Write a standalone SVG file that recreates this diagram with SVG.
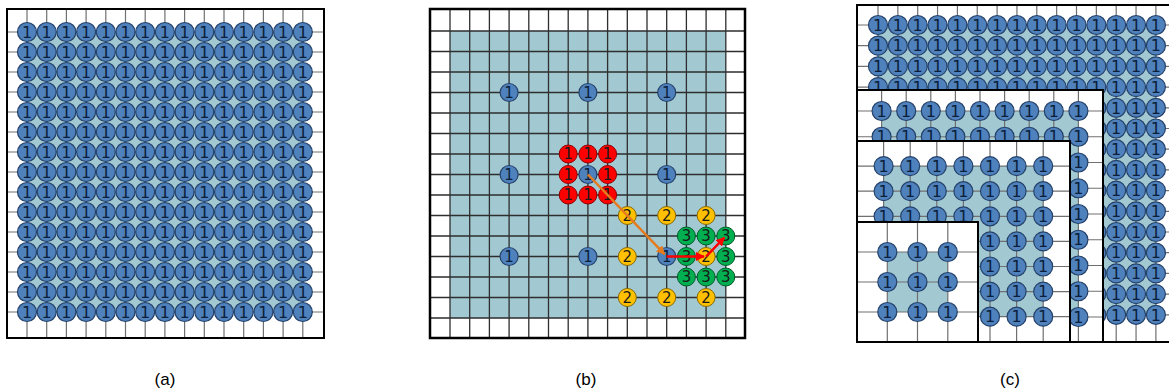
<svg xmlns="http://www.w3.org/2000/svg" xmlns:xlink="http://www.w3.org/1999/xlink" width="1169" height="392" viewBox="0 0 1169 392">
<style>
.bg{fill:#ffffff}
.sh{fill:#A2C8D2}
.ga{fill:none;stroke:#707070;stroke-width:1.2}
.gb{fill:none;stroke:#2e2e2e;stroke-width:1.3}
.bd{fill:none;stroke:#000000;stroke-width:2}
.bdw{fill:#ffffff;stroke:#000000;stroke-width:2}
.nb{fill:#4F81BD;stroke:#25426A;stroke-width:1.2}
.nr{fill:#FF0000;stroke:#8B0000;stroke-width:1}
.ny{fill:#FFC000;stroke:#8A6A00;stroke-width:1}
.ng{fill:#00B050;stroke:#005A28;stroke-width:1}
.t{font-family:"DejaVu Sans",sans-serif;font-size:16px;fill:#0B1F3A;text-anchor:middle}
.tb{font-family:"DejaVu Sans",sans-serif;font-size:15px;text-anchor:middle;fill:#0B1F3A}
.tk{font-family:"DejaVu Sans",sans-serif;font-size:15px;text-anchor:middle;fill:#1a1a1a}
.lbl{font-family:"Liberation Sans",Arial,sans-serif;font-size:17px;fill:#000000;text-anchor:middle}
.ao{fill:none;stroke:#E57A1E;stroke-width:2.5}
.ar{fill:none;stroke:#FF0000;stroke-width:2.5}
</style>
<defs>
<circle id="cb" r="9.5" class="nb"/>
<circle id="cb9" r="9" class="nb"/>
<circle id="cr" r="9" class="nr"/>
<circle id="cy" r="9" class="ny"/>
<circle id="cg" r="9" class="ng"/>
<marker id="mo" viewBox="0 0 10 10" refX="9" refY="5" markerWidth="9" markerHeight="9" markerUnits="userSpaceOnUse" orient="auto"><path d="M0,0L10,5L0,10z" fill="#E57A1E"/></marker>
<marker id="mr" viewBox="0 0 10 10" refX="9" refY="5" markerWidth="9" markerHeight="9" markerUnits="userSpaceOnUse" orient="auto"><path d="M0,0L10,5L0,10z" fill="#FF0000"/></marker>
<g id="rowA"><use href="#cb" x="27"/><use href="#cb" x="46.7"/><use href="#cb" x="66.4"/><use href="#cb" x="86.1"/><use href="#cb" x="105.8"/><use href="#cb" x="125.5"/><use href="#cb" x="145.2"/><use href="#cb" x="164.9"/><use href="#cb" x="184.6"/><use href="#cb" x="204.3"/><use href="#cb" x="224"/><use href="#cb" x="243.7"/><use href="#cb" x="263.4"/><use href="#cb" x="283.1"/><use href="#cb" x="302.8"/></g>
<g id="rowC1"><use href="#cb" x="878"/><use href="#cb" x="897.85"/><use href="#cb" x="917.7"/><use href="#cb" x="937.55"/><use href="#cb" x="957.4"/><use href="#cb" x="977.25"/><use href="#cb" x="997.1"/><use href="#cb" x="1016.95"/><use href="#cb" x="1036.8"/><use href="#cb" x="1056.65"/><use href="#cb" x="1076.5"/><use href="#cb" x="1096.35"/><use href="#cb" x="1116.2"/><use href="#cb" x="1136.05"/><use href="#cb" x="1155.9"/></g>
<g id="rowC1r"><use href="#cb" x="1096.35"/><use href="#cb" x="1116.2"/><use href="#cb" x="1136.05"/><use href="#cb" x="1155.9"/></g>
<g id="rowC2"><use href="#cb" x="881.6"/><use href="#cb" x="906.2"/><use href="#cb" x="930.8"/><use href="#cb" x="955.4"/><use href="#cb" x="980"/><use href="#cb" x="1004.6"/><use href="#cb" x="1029.2"/><use href="#cb" x="1053.8"/><use href="#cb" x="1078.4"/></g>
<g id="rowC3"><use href="#cb" x="883.6"/><use href="#cb" x="910.2"/><use href="#cb" x="936.8"/><use href="#cb" x="963.4"/><use href="#cb" x="990"/><use href="#cb" x="1016.6"/><use href="#cb" x="1043.2"/></g>
<g id="rowC3r"><use href="#cb" x="990"/><use href="#cb" x="1016.6"/><use href="#cb" x="1043.2"/></g>
<g id="rowC4"><use href="#cb" x="887.3"/><use href="#cb" x="917.5"/><use href="#cb" x="947.8"/></g>
</defs>
<rect class="bg" x="0" y="0" width="1169" height="392"/>

<!-- Panel (a) -->
<g id="panel-a">
<rect class="sh" x="27" y="32" width="275.8" height="280"/>
<path class="ga" d="M27 9V338M46.7 9V338M66.4 9V338M86.1 9V338M105.8 9V338M125.5 9V338M145.2 9V338M164.9 9V338M184.6 9V338M204.3 9V338M224 9V338M243.7 9V338M263.4 9V338M283.1 9V338M302.8 9V338M7 32H324M7 52H324M7 72H324M7 92H324M7 112H324M7 132H324M7 152H324M7 172H324M7 192H324M7 212H324M7 232H324M7 252H324M7 272H324M7 292H324M7 312H324"/>
<g id="a-nodes">
<use href="#rowA" y="32"/><use href="#rowA" y="52"/><use href="#rowA" y="72"/><use href="#rowA" y="92"/><use href="#rowA" y="112"/><use href="#rowA" y="132"/><use href="#rowA" y="152"/><use href="#rowA" y="172"/><use href="#rowA" y="192"/><use href="#rowA" y="212"/><use href="#rowA" y="232"/><use href="#rowA" y="252"/><use href="#rowA" y="272"/><use href="#rowA" y="292"/><use href="#rowA" y="312"/>
<text class="t" x="27 46.7 66.4 86.1 105.8 125.5 145.2 164.9 184.6 204.3 224 243.7 263.4 283.1 302.8" y="37.7">111111111111111</text>
<text class="t" x="27 46.7 66.4 86.1 105.8 125.5 145.2 164.9 184.6 204.3 224 243.7 263.4 283.1 302.8" y="57.7">111111111111111</text>
<text class="t" x="27 46.7 66.4 86.1 105.8 125.5 145.2 164.9 184.6 204.3 224 243.7 263.4 283.1 302.8" y="77.7">111111111111111</text>
<text class="t" x="27 46.7 66.4 86.1 105.8 125.5 145.2 164.9 184.6 204.3 224 243.7 263.4 283.1 302.8" y="97.7">111111111111111</text>
<text class="t" x="27 46.7 66.4 86.1 105.8 125.5 145.2 164.9 184.6 204.3 224 243.7 263.4 283.1 302.8" y="117.7">111111111111111</text>
<text class="t" x="27 46.7 66.4 86.1 105.8 125.5 145.2 164.9 184.6 204.3 224 243.7 263.4 283.1 302.8" y="137.7">111111111111111</text>
<text class="t" x="27 46.7 66.4 86.1 105.8 125.5 145.2 164.9 184.6 204.3 224 243.7 263.4 283.1 302.8" y="157.7">111111111111111</text>
<text class="t" x="27 46.7 66.4 86.1 105.8 125.5 145.2 164.9 184.6 204.3 224 243.7 263.4 283.1 302.8" y="177.7">111111111111111</text>
<text class="t" x="27 46.7 66.4 86.1 105.8 125.5 145.2 164.9 184.6 204.3 224 243.7 263.4 283.1 302.8" y="197.7">111111111111111</text>
<text class="t" x="27 46.7 66.4 86.1 105.8 125.5 145.2 164.9 184.6 204.3 224 243.7 263.4 283.1 302.8" y="217.7">111111111111111</text>
<text class="t" x="27 46.7 66.4 86.1 105.8 125.5 145.2 164.9 184.6 204.3 224 243.7 263.4 283.1 302.8" y="237.7">111111111111111</text>
<text class="t" x="27 46.7 66.4 86.1 105.8 125.5 145.2 164.9 184.6 204.3 224 243.7 263.4 283.1 302.8" y="257.7">111111111111111</text>
<text class="t" x="27 46.7 66.4 86.1 105.8 125.5 145.2 164.9 184.6 204.3 224 243.7 263.4 283.1 302.8" y="277.7">111111111111111</text>
<text class="t" x="27 46.7 66.4 86.1 105.8 125.5 145.2 164.9 184.6 204.3 224 243.7 263.4 283.1 302.8" y="297.7">111111111111111</text>
<text class="t" x="27 46.7 66.4 86.1 105.8 125.5 145.2 164.9 184.6 204.3 224 243.7 263.4 283.1 302.8" y="317.7">111111111111111</text>
</g>
<rect class="bd" x="7" y="9" width="317" height="329"/>
<text class="lbl" x="165" y="385">(a)</text>
</g>

<!-- Panel (b) -->
<g id="panel-b">
<rect class="sh" x="450" y="31" width="275.8" height="287"/>
<path class="gb" d="M450 9V338M469.7 9V338M489.4 9V338M509.1 9V338M528.8 9V338M548.5 9V338M568.2 9V338M587.9 9V338M607.6 9V338M627.3 9V338M647 9V338M666.7 9V338M686.4 9V338M706.1 9V338M725.8 9V338M430 31H745M430 51.5H745M430 72H745M430 92.5H745M430 113H745M430 133.5H745M430 154H745M430 174.5H745M430 195H745M430 215.5H745M430 236H745M430 256.5H745M430 277H745M430 297.5H745M430 318H745"/>
<rect class="bd" x="430" y="9" width="315" height="329" style="stroke-width:2.5"/>
<g id="b-nodes">
<g id="b-blue-1"><use href="#cb9" x="509.1" y="92.5"/><text class="tb" x="509.1" y="97.8">1</text></g>
<g id="b-blue-2"><use href="#cb9" x="587.9" y="92.5"/><text class="tb" x="587.9" y="97.8">1</text></g>
<g id="b-blue-3"><use href="#cb9" x="666.7" y="92.5"/><text class="tb" x="666.7" y="97.8">1</text></g>
<g id="b-blue-4"><use href="#cb9" x="509.1" y="174.5"/><text class="tb" x="509.1" y="179.8">1</text></g>
<g id="b-blue-5"><use href="#cb9" x="587.9" y="174.5"/><text class="tb" x="587.9" y="179.8">1</text></g>
<g id="b-blue-6"><use href="#cb9" x="666.7" y="174.5"/><text class="tb" x="666.7" y="179.8">1</text></g>
<g id="b-blue-7"><use href="#cb9" x="509.1" y="256.5"/><text class="tb" x="509.1" y="261.8">1</text></g>
<g id="b-blue-8"><use href="#cb9" x="587.9" y="256.5"/><text class="tb" x="587.9" y="261.8">1</text></g>
<g id="b-blue-9"><use href="#cb9" x="666.7" y="256.5"/><text class="tb" x="666.7" y="261.8">1</text></g>
<g id="b-red-1"><use href="#cr" x="568.2" y="154"/><text class="tk" x="568.2" y="159.3">1</text></g>
<g id="b-red-2"><use href="#cr" x="587.9" y="154"/><text class="tk" x="587.9" y="159.3">1</text></g>
<g id="b-red-3"><use href="#cr" x="607.6" y="154"/><text class="tk" x="607.6" y="159.3">1</text></g>
<g id="b-red-4"><use href="#cr" x="568.2" y="174.5"/><text class="tk" x="568.2" y="179.8">1</text></g>
<g id="b-red-5"><use href="#cr" x="607.6" y="174.5"/><text class="tk" x="607.6" y="179.8">1</text></g>
<g id="b-red-6"><use href="#cr" x="568.2" y="195"/><text class="tk" x="568.2" y="200.3">1</text></g>
<g id="b-red-7"><use href="#cr" x="587.9" y="195"/><text class="tk" x="587.9" y="200.3">1</text></g>
<g id="b-red-8"><use href="#cr" x="607.6" y="195"/><text class="tk" x="607.6" y="200.3">1</text></g>
<g id="b-green-1"><use href="#cg" x="686.4" y="236"/><text class="tk" x="686.4" y="241.3">3</text></g>
<g id="b-green-2"><use href="#cg" x="706.1" y="236"/><text class="tk" x="706.1" y="241.3">3</text></g>
<g id="b-green-3"><use href="#cg" x="725.8" y="236"/><text class="tk" x="725.8" y="241.3">3</text></g>
<g id="b-green-4"><use href="#cg" x="686.4" y="256.5"/><text class="tk" x="686.4" y="261.8">3</text></g>
<g id="b-green-5"><use href="#cg" x="725.8" y="256.5"/><text class="tk" x="725.8" y="261.8">3</text></g>
<g id="b-green-6"><use href="#cg" x="686.4" y="277"/><text class="tk" x="686.4" y="282.3">3</text></g>
<g id="b-green-7"><use href="#cg" x="706.1" y="277"/><text class="tk" x="706.1" y="282.3">3</text></g>
<g id="b-green-8"><use href="#cg" x="725.8" y="277"/><text class="tk" x="725.8" y="282.3">3</text></g>
<g id="b-yellow-1"><use href="#cy" x="627.3" y="215.5"/><text class="tk" x="627.3" y="220.8">2</text></g>
<g id="b-yellow-2"><use href="#cy" x="666.7" y="215.5"/><text class="tk" x="666.7" y="220.8">2</text></g>
<g id="b-yellow-3"><use href="#cy" x="706.1" y="215.5"/><text class="tk" x="706.1" y="220.8">2</text></g>
<g id="b-yellow-4"><use href="#cy" x="627.3" y="256.5"/><text class="tk" x="627.3" y="261.8">2</text></g>
<g id="b-yellow-5"><use href="#cy" x="706.1" y="256.5"/><text class="tk" x="706.1" y="261.8">2</text></g>
<g id="b-yellow-6"><use href="#cy" x="627.3" y="297.5"/><text class="tk" x="627.3" y="302.8">2</text></g>
<g id="b-yellow-7"><use href="#cy" x="666.7" y="297.5"/><text class="tk" x="666.7" y="302.8">2</text></g>
<g id="b-yellow-8"><use href="#cy" x="706.1" y="297.5"/><text class="tk" x="706.1" y="302.8">2</text></g>
</g>
<g id="b-connectors">
<path class="ao" d="M587.9 174.5L664.5 254.2" marker-end="url(#mo)"/>
<path class="ar" d="M666.7 256.5H704" marker-end="url(#mr)"/>
<path class="ar" d="M706.1 256.5L724.3 237.6" marker-end="url(#mr)"/>
</g>
<text class="lbl" x="586" y="385">(b)</text>
</g>

<!-- Panel (c) -->
<g id="panel-c">
<g id="c-layer-1">
<rect class="sh" x="878" y="25" width="277.9" height="289.8"/>
<path class="ga" d="M878 5V342M897.85 5V342M917.7 5V342M937.55 5V342M957.4 5V342M977.25 5V342M997.1 5V342M1016.95 5V342M1036.8 5V342M1056.65 5V342M1076.5 5V342M1096.35 5V342M1116.2 5V342M1136.05 5V342M1155.9 5V342M857 25H1169M857 45.7H1169M857 66.4H1169M857 87.1H1169M857 107.8H1169M857 128.5H1169M857 149.2H1169M857 169.9H1169M857 190.6H1169M857 211.3H1169M857 232H1169M857 252.7H1169M857 273.4H1169M857 294.1H1169M857 314.8H1169"/>
<use href="#rowC1" y="25"/><use href="#rowC1" y="45.7"/><use href="#rowC1" y="66.4"/><use href="#rowC1" y="87.1"/>
<use href="#rowC1r" y="107.8"/><use href="#rowC1r" y="128.5"/><use href="#rowC1r" y="149.2"/><use href="#rowC1r" y="169.9"/><use href="#rowC1r" y="190.6"/><use href="#rowC1r" y="211.3"/><use href="#rowC1r" y="232"/><use href="#rowC1r" y="252.7"/><use href="#rowC1r" y="273.4"/><use href="#rowC1r" y="294.1"/><use href="#rowC1r" y="314.8"/>
<text class="t" x="878 897.85 917.7 937.55 957.4 977.25 997.1 1016.95 1036.8 1056.65 1076.5 1096.35 1116.2 1136.05 1155.9" y="30.7">111111111111111</text>
<text class="t" x="878 897.85 917.7 937.55 957.4 977.25 997.1 1016.95 1036.8 1056.65 1076.5 1096.35 1116.2 1136.05 1155.9" y="51.4">111111111111111</text>
<text class="t" x="878 897.85 917.7 937.55 957.4 977.25 997.1 1016.95 1036.8 1056.65 1076.5 1096.35 1116.2 1136.05 1155.9" y="72.1">111111111111111</text>
<text class="t" x="878 897.85 917.7 937.55 957.4 977.25 997.1 1016.95 1036.8 1056.65 1076.5 1096.35 1116.2 1136.05 1155.9" y="92.8">111111111111111</text>
<text class="t" x="1096.35 1116.2 1136.05 1155.9" y="113.5">1111</text>
<text class="t" x="1096.35 1116.2 1136.05 1155.9" y="134.2">1111</text>
<text class="t" x="1096.35 1116.2 1136.05 1155.9" y="154.9">1111</text>
<text class="t" x="1096.35 1116.2 1136.05 1155.9" y="175.6">1111</text>
<text class="t" x="1096.35 1116.2 1136.05 1155.9" y="196.3">1111</text>
<text class="t" x="1096.35 1116.2 1136.05 1155.9" y="217">1111</text>
<text class="t" x="1096.35 1116.2 1136.05 1155.9" y="237.7">1111</text>
<text class="t" x="1096.35 1116.2 1136.05 1155.9" y="258.4">1111</text>
<text class="t" x="1096.35 1116.2 1136.05 1155.9" y="279.1">1111</text>
<text class="t" x="1096.35 1116.2 1136.05 1155.9" y="299.8">1111</text>
<text class="t" x="1096.35 1116.2 1136.05 1155.9" y="320.5">1111</text>
<rect class="bd" x="857" y="5" width="330" height="337"/>
</g>
<g id="c-layer-2">
<rect class="bdw" x="857" y="90" width="246" height="252"/>
<rect class="sh" x="881.6" y="111" width="196.8" height="206"/>
<path class="ga" d="M881.6 90V342M906.2 90V342M930.8 90V342M955.4 90V342M980 90V342M1004.6 90V342M1029.2 90V342M1053.8 90V342M1078.4 90V342M857 111H1103M857 136.75H1103M857 162.5H1103M857 188.25H1103M857 214H1103M857 239.75H1103M857 265.5H1103M857 291.25H1103M857 317H1103"/>
<use href="#rowC2" y="111"/><use href="#rowC2" y="136.75"/>
<use href="#cb" x="1078.4" y="162.5"/><use href="#cb" x="1078.4" y="188.25"/><use href="#cb" x="1078.4" y="214"/><use href="#cb" x="1078.4" y="239.75"/><use href="#cb" x="1078.4" y="265.5"/><use href="#cb" x="1078.4" y="291.25"/><use href="#cb" x="1078.4" y="317"/>
<text class="t" x="881.6 906.2 930.8 955.4 980 1004.6 1029.2 1053.8 1078.4" y="116.7">111111111</text>
<text class="t" x="881.6 906.2 930.8 955.4 980 1004.6 1029.2 1053.8 1078.4" y="142.45">111111111</text>
<text class="t" x="1078.4 1078.4 1078.4 1078.4 1078.4 1078.4 1078.4" y="168.2 193.95 219.7 245.45 271.2 296.95 322.7">1111111</text>
<rect class="bd" x="857" y="90" width="246" height="252"/>
</g>
<g id="c-layer-3">
<rect class="bdw" x="857" y="141" width="213" height="201"/>
<rect class="sh" x="883.6" y="166.1" width="159.6" height="150.6"/>
<path class="ga" d="M883.6 141V342M910.2 141V342M936.8 141V342M963.4 141V342M990 141V342M1016.6 141V342M1043.2 141V342M857 166.1H1070M857 191.2H1070M857 216.3H1070M857 241.4H1070M857 266.5H1070M857 291.6H1070M857 316.7H1070"/>
<use href="#rowC3" y="166.1"/><use href="#rowC3" y="191.2"/><use href="#rowC3" y="216.3"/>
<use href="#rowC3r" y="241.4"/><use href="#rowC3r" y="266.5"/><use href="#rowC3r" y="291.6"/><use href="#rowC3r" y="316.7"/>
<text class="t" x="883.6 910.2 936.8 963.4 990 1016.6 1043.2" y="171.8">1111111</text>
<text class="t" x="883.6 910.2 936.8 963.4 990 1016.6 1043.2" y="196.9">1111111</text>
<text class="t" x="883.6 910.2 936.8 963.4 990 1016.6 1043.2" y="222">1111111</text>
<text class="t" x="990 1016.6 1043.2" y="247.1">111</text>
<text class="t" x="990 1016.6 1043.2" y="272.2">111</text>
<text class="t" x="990 1016.6 1043.2" y="297.3">111</text>
<text class="t" x="990 1016.6 1043.2" y="322.4">111</text>
<rect class="bd" x="857" y="141" width="213" height="201"/>
</g>
<g id="c-layer-4">
<rect class="bdw" x="857" y="222" width="121" height="120"/>
<rect class="sh" x="887.3" y="252" width="60.5" height="60"/>
<path class="ga" d="M887.3 222V342M917.5 222V342M947.8 222V342M857 252H978M857 282H978M857 312H978"/>
<use href="#rowC4" y="252"/><use href="#rowC4" y="282"/><use href="#rowC4" y="312"/>
<text class="t" x="887.3 917.5 947.8" y="257.7">111</text>
<text class="t" x="887.3 917.5 947.8" y="287.7">111</text>
<text class="t" x="887.3 917.5 947.8" y="317.7">111</text>
<rect class="bd" x="857" y="222" width="121" height="120"/>
</g>
<text class="lbl" x="1010" y="385">(c)</text>
</g>
</svg>
